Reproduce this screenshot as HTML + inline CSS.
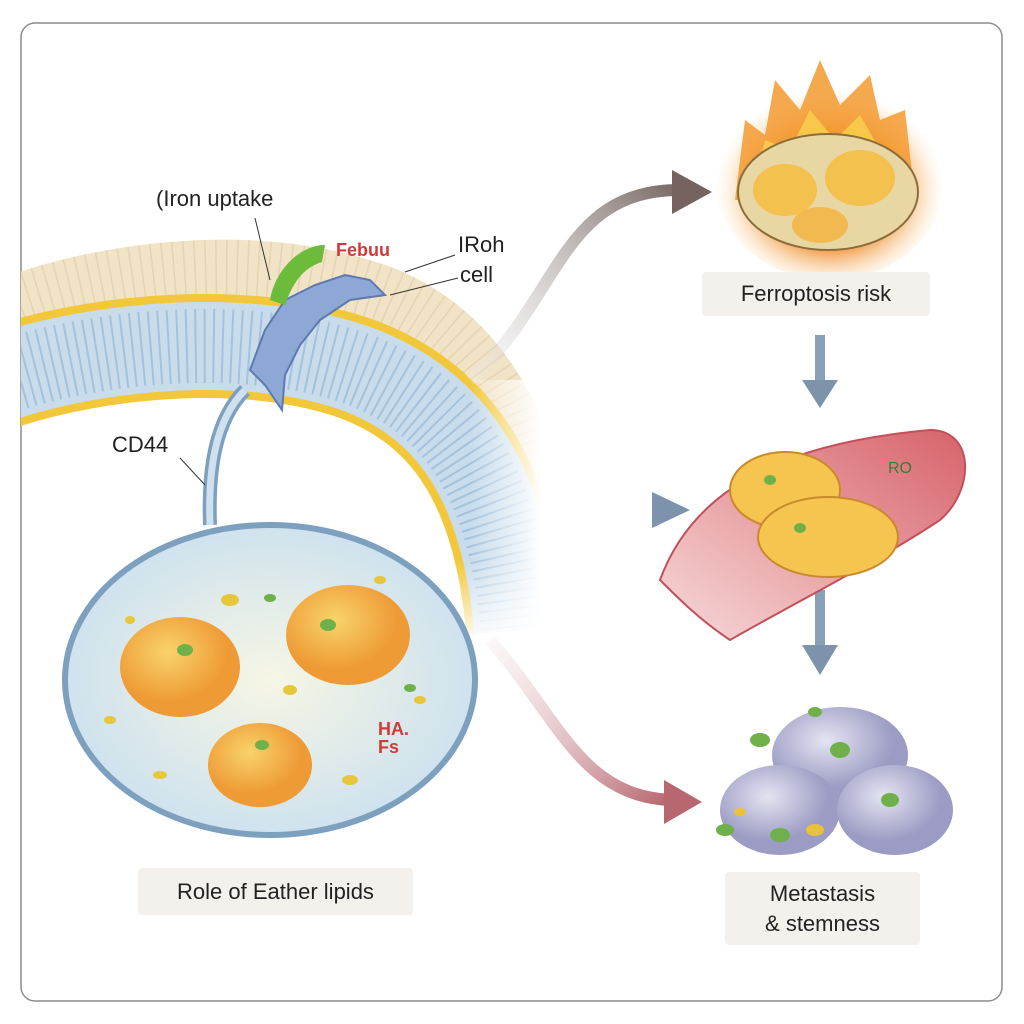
<!DOCTYPE html>
<html><head><meta charset="utf-8"><style>
html,body{margin:0;padding:0;background:#fff;}
body{width:1024px;height:1024px;position:relative;overflow:hidden;font-family:"Liberation Sans",sans-serif;}
.lbl{position:absolute;color:#222;font-size:22px;}
.box{position:absolute;background:#f4f1ec;border-radius:4px;display:flex;align-items:center;justify-content:center;text-align:center;font-size:22px;color:#222;line-height:30px;}
</style></head><body>
<svg width="1024" height="1024" style="position:absolute;left:0;top:0;overflow:hidden">
<defs>
<clipPath id="mem"><rect x="21" y="23" width="520" height="620"/></clipPath>
<radialGradient id="nuc" cx="40%" cy="35%"><stop offset="0" stop-color="#f9d36a"/><stop offset="1" stop-color="#ee9a35"/></radialGradient>
<radialGradient id="cellg" cx="50%" cy="50%"><stop offset="0" stop-color="#f6f6e4"/><stop offset="1" stop-color="#cfe2ee"/></radialGradient>
<radialGradient id="fire" cx="50%" cy="55%"><stop offset="0.55" stop-color="#f08a2a"/><stop offset="1" stop-color="#fbe3b8" stop-opacity="0"/></radialGradient>
<radialGradient id="purp" cx="40%" cy="35%"><stop offset="0" stop-color="#e4e4f2"/><stop offset="1" stop-color="#9b9bc4"/></radialGradient>
<linearGradient id="a1" x1="0" y1="1" x2="1" y2="0"><stop offset="0" stop-color="#eee" stop-opacity="0.3"/><stop offset="1" stop-color="#7a6a66"/></linearGradient>
<linearGradient id="a2" x1="0" y1="0" x2="1" y2="0"><stop offset="0" stop-color="#dde6ee" stop-opacity="0.3"/><stop offset="1" stop-color="#7d93ac"/></linearGradient>
<linearGradient id="a3" x1="0" y1="0" x2="1" y2="1"><stop offset="0" stop-color="#f3e3e6" stop-opacity="0.3"/><stop offset="1" stop-color="#b86670"/></linearGradient>
<linearGradient id="vein" x1="0" y1="1" x2="1" y2="0"><stop offset="0" stop-color="#f7dada"/><stop offset="1" stop-color="#d7636b"/></linearGradient>
<linearGradient id="fadeR" x1="0" y1="0" x2="1" y2="0"><stop offset="0" stop-color="#fff" stop-opacity="0"/><stop offset="1" stop-color="#fff"/></linearGradient>
<linearGradient id="fadeB" x1="0" y1="0" x2="0" y2="1"><stop offset="0" stop-color="#fff" stop-opacity="0"/><stop offset="1" stop-color="#fff"/></linearGradient>
</defs>
<rect x="21" y="23" width="981" height="978" rx="14" fill="#fff" stroke="#8c8c8c" stroke-width="1.5"/>
<g clip-path="url(#mem)">
<path d="M0 312 C100 272 260 250 385 298 C480 338 530 430 545 560" fill="none" stroke="#f1e3c6" stroke-width="62"/>
<path d="M0 312 C100 272 260 250 385 298 C480 338 530 430 545 560" fill="none" stroke="#dcc69c" stroke-width="62" stroke-dasharray="1.5 9" opacity="0.55"/>
<path d="M0 378 C100 345 250 330 360 370 C450 405 505 480 518 630" fill="none" stroke="#f2c83a" stroke-width="104"/>
<path d="M0 378 C100 345 250 330 360 370 C450 405 505 480 518 630" fill="none" stroke="#c8dcec" stroke-width="88"/>
<path d="M0 378 C100 345 250 330 360 370 C450 405 505 480 518 630" fill="none" stroke="#96b6d4" stroke-width="74" stroke-dasharray="2 7" opacity="0.7"/>
</g>
<rect x="470" y="380" width="72" height="270" fill="url(#fadeR)"/>
<rect x="430" y="560" width="112" height="85" fill="url(#fadeB)"/>
<!-- arrows -->
<path d="M470 380 C560 300 560 190 680 190" fill="none" stroke="url(#a1)" stroke-width="12"/>
<polygon points="672,170 712,192 672,214" fill="#76625f"/>
<path d="M340 510 L660 510" stroke="url(#a2)" stroke-width="10"/>
<polygon points="652,492 690,510 652,528" fill="#7d93ac"/>
<path d="M490 640 C560 720 580 795 670 800" fill="none" stroke="url(#a3)" stroke-width="12"/>
<polygon points="664,780 702,802 664,824" fill="#b86670"/>
<path d="M820 335 L820 385" stroke="#8aa0b6" stroke-width="10"/><polygon points="802,380 838,380 820,408" fill="#7d93ac"/>
<path d="M820 590 L820 650" stroke="#8aa0b6" stroke-width="10"/><polygon points="802,645 838,645 820,675" fill="#7d93ac"/>
<!-- cell -->
<path d="M245 390 C215 420 208 470 210 525" stroke="#7da0bf" stroke-width="14" fill="none"/>
<path d="M245 390 C215 420 208 470 210 525" stroke="#cfe0ee" stroke-width="7" fill="none"/>
<ellipse cx="270" cy="680" rx="205" ry="155" fill="url(#cellg)" stroke="#7da0bf" stroke-width="6"/>
<ellipse cx="180" cy="667" rx="60" ry="50" fill="url(#nuc)"/>
<ellipse cx="348" cy="635" rx="62" ry="50" fill="url(#nuc)"/>
<ellipse cx="260" cy="765" rx="52" ry="42" fill="url(#nuc)"/>
<g fill="#e6c63a"><ellipse cx="160" cy="775" rx="7" ry="4"/><ellipse cx="350" cy="780" rx="8" ry="5"/><ellipse cx="290" cy="690" rx="7" ry="5"/><ellipse cx="230" cy="600" rx="9" ry="6"/><ellipse cx="420" cy="700" rx="6" ry="4"/><ellipse cx="130" cy="620" rx="5" ry="4"/><ellipse cx="380" cy="580" rx="6" ry="4"/><ellipse cx="110" cy="720" rx="6" ry="4"/></g>
<g fill="#6fb04a"><ellipse cx="185" cy="650" rx="8" ry="6"/><ellipse cx="328" cy="625" rx="8" ry="6"/><ellipse cx="262" cy="745" rx="7" ry="5"/><ellipse cx="270" cy="598" rx="6" ry="4"/><ellipse cx="410" cy="688" rx="6" ry="4"/></g>
<!-- receptor -->
<path d="M250 370 L265 330 L285 300 L315 285 L345 275 L370 280 L385 295 L350 300 L320 320 L300 345 L285 375 L282 410 L265 385 Z" fill="#8ea8d6" stroke="#5d79b0" stroke-width="2"/>
<path d="M270 300 C275 270 300 245 325 245 L322 262 C302 268 292 285 285 305 Z" fill="#6dbb3a"/>
<!-- flaming cell -->
<ellipse cx="830" cy="180" rx="115" ry="100" fill="url(#fire)"/>
<path d="M735 200 L745 120 L765 135 L775 80 L800 110 L820 60 L840 105 L870 75 L880 120 L905 110 L915 200 Z" fill="#f39a30" opacity="0.85"/>
<path d="M750 200 L765 140 L790 150 L810 110 L835 140 L860 115 L880 150 L900 200 Z" fill="#f8d24e" opacity="0.8"/>
<ellipse cx="828" cy="192" rx="90" ry="58" fill="#e8d7a3" stroke="#8a6d3a" stroke-width="2"/>
<ellipse cx="785" cy="190" rx="32" ry="26" fill="#f4c04e"/>
<ellipse cx="860" cy="178" rx="35" ry="28" fill="#f4c04e"/>
<ellipse cx="820" cy="225" rx="28" ry="18" fill="#f2b950"/>
<!-- vessel -->
<path d="M660 580 C700 470 820 440 930 430 C975 430 975 490 940 520 C880 560 800 600 730 640 C700 620 680 600 660 580 Z" fill="url(#vein)" stroke="#c2505a" stroke-width="2"/>
<ellipse cx="785" cy="490" rx="55" ry="38" fill="#f5c550" stroke="#c98a2b" stroke-width="2"/>
<ellipse cx="828" cy="537" rx="70" ry="40" fill="#f5c550" stroke="#c98a2b" stroke-width="2"/>
<g fill="#6fb04a"><ellipse cx="770" cy="480" rx="6" ry="5"/><ellipse cx="800" cy="528" rx="6" ry="5"/></g>
<!-- purple cluster -->
<ellipse cx="840" cy="755" rx="68" ry="48" fill="url(#purp)"/>
<ellipse cx="780" cy="810" rx="60" ry="45" fill="url(#purp)"/>
<ellipse cx="895" cy="810" rx="58" ry="45" fill="url(#purp)"/>
<g fill="#6fb04a"><ellipse cx="760" cy="740" rx="10" ry="7"/><ellipse cx="840" cy="750" rx="10" ry="8"/><ellipse cx="890" cy="800" rx="9" ry="7"/><ellipse cx="780" cy="835" rx="10" ry="7"/><ellipse cx="725" cy="830" rx="9" ry="6"/><ellipse cx="815" cy="712" rx="7" ry="5"/></g>
<g fill="#e8c23a"><ellipse cx="815" cy="830" rx="9" ry="6"/><ellipse cx="740" cy="812" rx="6" ry="4"/></g>
<!-- leader lines -->
<line x1="255" y1="218" x2="270" y2="280" stroke="#333"/>
<line x1="180" y1="458" x2="205" y2="485" stroke="#333"/>
<line x1="455" y1="255" x2="405" y2="272" stroke="#333"/>
<line x1="458" y1="278" x2="390" y2="295" stroke="#333"/>
</svg>
<div class="lbl" style="left:156px;top:186px;">(Iron uptake</div>
<div class="lbl" style="left:112px;top:432px;">CD44</div>
<div class="lbl" style="left:458px;top:232px;">IRoh</div>
<div class="lbl" style="left:460px;top:262px;">cell</div>
<div class="lbl" style="left:336px;top:240px;color:#d23a3a;font-weight:bold;font-size:18px;">Febuu</div>
<div class="lbl" style="left:378px;top:720px;color:#d23a3a;font-weight:bold;font-size:18px;line-height:18px;">HA.<br>Fs</div>
<div class="lbl" style="left:888px;top:460px;color:#3a7a3a;font-size:16px;">RO</div>
<div class="box" style="left:702px;top:272px;width:228px;height:44px;">Ferroptosis risk</div>
<div class="box" style="left:138px;top:868px;width:275px;height:47px;">Role of Eather lipids</div>
<div class="box" style="left:725px;top:872px;width:195px;height:73px;">Metastasis<br>&amp; stemness</div>
</body></html>
